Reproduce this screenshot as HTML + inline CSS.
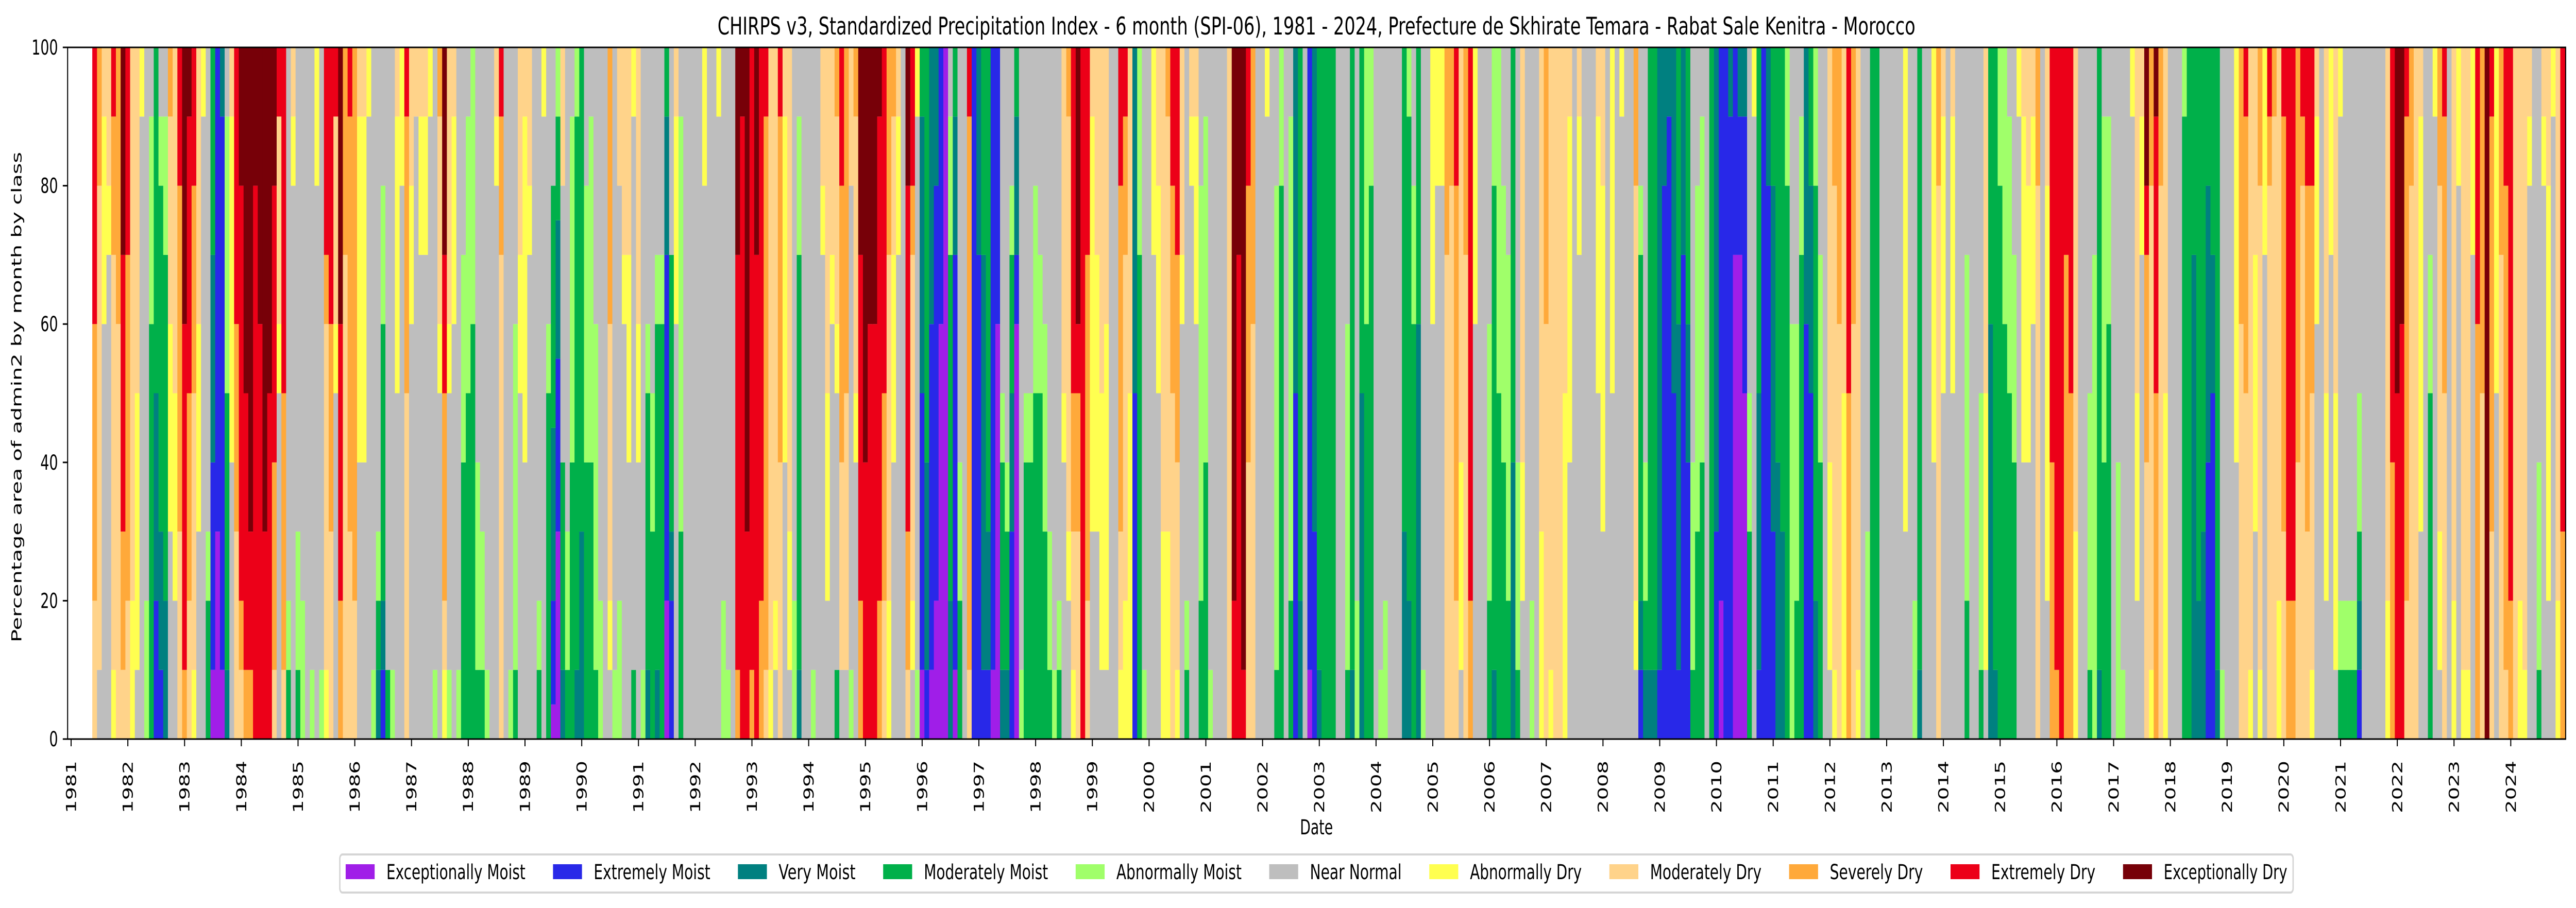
<!DOCTYPE html>
<html>
<head>
<meta charset="utf-8">
<style>
  html,body{margin:0;padding:0;background:#fff;width:100vw;height:100vh;overflow:hidden;}
  svg{display:block;width:100vw;height:100vh;}
  text{font-family:"DejaVu Sans","Liberation Sans",sans-serif;fill:#000;}
</style>
</head>
<body>
<svg id="chart" viewBox="0 0 7467 1763" preserveAspectRatio="none" xmlns="http://www.w3.org/2000/svg">
  <rect x="0" y="0" width="7467" height="1763" fill="#fff"/>
  <text x="3816" y="67" font-size="47" text-anchor="middle" textLength="3472" lengthAdjust="spacingAndGlyphs">CHIRPS v3, Standardized Precipitation Index - 6 month (SPI-06), 1981 - 2024, Prefecture de Skhirate Temara - Rabat Sale Kenitra - Morocco</text>
  <g id="bars"></g>
  <g id="yaxis"></g>
  <g id="xaxis"></g>
  <rect x="196" y="92" width="7241" height="1343" fill="none" stroke="#000" stroke-width="3"/>
  <text transform="translate(62,771) rotate(-90)" font-size="40" text-anchor="middle" textLength="952" lengthAdjust="spacingAndGlyphs">Percentage area of admin2 by month by class</text>
  <text x="3816" y="1620" font-size="40" text-anchor="middle">Date</text>
  <g id="legend">
    <rect x="985" y="1659" width="5662" height="74" rx="8" fill="#fff" stroke="#d5d5d5" stroke-width="4"/>
  </g>
</svg>
<script>
// ---- chart data ----
const classNames = ["Exceptionally Moist","Extremely Moist","Very Moist","Moderately Moist","Abnormally Moist","Near Normal","Abnormally Dry","Moderately Dry","Severely Dry","Extremely Dry","Exceptionally Dry"];
const classColors = ["#a01ee8","#2828e8","#008080","#00b04a","#a0ff6a","#bebebe","#ffff50","#ffd38a","#ffa93a","#ec0018","#770008"];
const classCodes = "0123456789X";
const firstMonthIndex = 5; // June 1981 (months since Jan 1981)
const yearTicks = [1981,1982,1983,1984,1985,1986,1987,1988,1989,1990,1991,1992,1993,1994,1995,1996,1997,1998,1999,2000,2001,2002,2003,2004,2005,2006,2007,2008,2009,2010,2011,2012,2013,2014,2015,2016,2017,2018,2019,2020,2021,2022,2023,2024];
const yTicks = [0,20,40,60,80,100];
const legendPatchX = [1002,1603,2139,2560,3118,3679,4143,4665,5186,5654,6154];
const legendTextLen = [403,338,223,360,363,266,324,323,270,302,358];
// monthly class composition: each char = one share of the area, class code 0..9,X
const spiA = ["7788889999","5777777788","5555556667","5555555677","6777777889","7777778888","7889999XXX","7788888999","6677777777","5666677777","5555555556","4455555555","3333334445","1122233333","1223333345","2233333445","5556667778","5566677777","7778888899","899999XXXX","778889999X","6777788899","5556667777","5555555556","3345555555","0111222333","0001111111","0111111112","2333344445","5555666667","7778889999","78999999XX","89999XXXXX","899XXXXXXX","99999999XX","999999XXXX","999XXXXXXX","99999XXXXX","78889999XX","5555567779","7888899999","3455555555","5555555567","3445555555","4455555555","5555555555","4555555555","5555555566","4555555555","6777778999","7778889999","5555567779","889999XXXX","7777777888","7778888889","7788888888","5555666667","5555666667","5555555556","4555555555","2345555555","1233334455","3555555555","4555555555","5555566667","5555555566","7777788889","5555556677","5555555557","5555555667","5555555667","5555555556","4555555555","5555567778","6788899XXX"];
const spiB = ["4555567777","5555556667","4555555555","3333444555","3333344445","3333334444","3444555555","3445555555","4555555555","5555555555","5555555567","7777777889","5555555555","4555555555","3444445555","5555566777","5555666667","5555555677","5555555555","3455555555","5555555556","3333345555","01112222233333335555","00000011111222233344","2333555577","3445555555","3333444445","2333333334","2223333333","3333444455","3333444445","3444445555","4455555555","5555555555","5677778888","4555555555","4455555577","5555556777","5555666777","3555555556","5555667777","4555555555","2333345555","3334455555","2333334555","3333334555","0011111223","1123333555","5555556667","3334444445","5555555555","5555555555","5555555555","5555555555","5555555566","5555555555","5555555555","5555555556","4455555555","4555555555","5555555555","8999999XXX","999999999X","999XXXXXXX","8999999999","9999999XXX","8899999999","7888888889","6777777777","5677777777","7777888889","5555666667","5667777777","4455555555"];
const spiC = ["2333333445","5555555555","5555555555","4555555555","5555555555","5555555677","5566677777","5555556777","3555567778","5777888899","5777788888","4555555577","5555677778","8899999XXX","9999XXXXXX","999999XXXX","999999XXXX","889999999X","7788899999","6677777888","5555666778","5555555667","5555555555","78899999XX","5677777899","4555555556","0111122223","1222333333","0111112222","0011111122","0000001111","0000000000","2233333445","0111111223","3344555555","5555555555","7888888889","1111111111","1111111222","1222222333","1223333333","0111111111","0000001111","2333455555","2334555555","1112233455","0000001223","4555555555","3333455555","3333455555","3333344455","3333344555","3334445555","3445555555","4555555555","3455555555","5555677777","5567777778","6778899999","777889XXXX","9999999999","7788888999","5556666667","5556666777","5666677777","5666667777","5555555555","5555555555","6778888899","6677777889","6666677777","1111122222","3333333444","4555555555","5555555555"];
const spiD = ["5555555666","5555566677","6667777777","6667777778","7777788899","6777888999","5555556777","3455555555","5555555567","5555556667","3344444455","3333444445","4555555555","5555555555","5555555555","5555555555","7777777777","99XXXXXXXX","9999999XXX","9XXXXXXXXX","7777888899","7777778888","5555555555","5555555555","5555555556","5555555555","3444444455","3333333344","5555555555","3344444445","1111122222","2233333333","5555555555","0111111111","1112222222","2333333333","3333333333","3333333333","3333333333","5555555555","5555555555","3444445555","2333333333","4455555555","2222233333","3333334444","3333333344","5555555555","4555555555","4455555555","5555555555","5555555555","5555555555","2223333333","2233333334","3333334455","2222223333","4555555555","5555555555","5555556666","5555555566","5555555566","7777777888","7777777788","7788888899","5666777777","7777777888","8899999999","5555556666","5555555555","5555555555","3344445555","2333333344","3333344444","3333444455"];
const spiE = ["3344444555","2222333333","3444555555","5566777777","5555555555","4455555555","5555555555","6667777777","7777778888","6777777777","7777777777","7777777777","6666677777","5555666667","5555555555","5555555667","5555555555","5555555555","5555555555","5555566667","5556666677","5555555555","5555566666","5555555555","5555555556","5555555555","5555555555","5677777788","1233333455","2344555555","2333333333","2333333333","1222222222","1111111122","1111111112","1111122222","1222223333","1111111222","1111223333","3444555555","3334444455","3333444445","5555555555","3333333333","1112222222","0011111111","1111111111","1111111112","0000000111","0000000112","0000011112","3334455555","5555555556","1222233333","1111111111","1111111122","1112222233","2222333333","2223333333","3333333344","4444445555","3344445555","3333333445","1111112222","1111122233","2233333344","3333444555","5555555555","5666777777","6777777788","7777778888","6666677777","8888899999","7777778888","6777777777"];
const spiF = ["5555555555","4445555555","3333333333","3333333333","5555555555","5555555555","5555555555","5555555555","5555555555","5556666666","5555555555","4455555555","2333333333","5555555555","5555555555","5555666666","7777777788","5555566667","5555555555","5555566667","5555555555","5555555555","3344444555","5555555555","5555555555","3444455555","5666677777","2222223333","2333333333","3333333344","3333334444","3333344445","3333444555","5555555556","5555666667","5555666677","5555556667","7777777788","5555555555","5566666677","8888999999","8999999999","9999999999","8888888999","8888899999","6667777777","5555555555","5555555555","3444455555","4444444555","2333333333","3333444445","3333334445","5555555555","4444555555","4555555555","5555555555","5555555556","5566677777","5555555667","77778889XX","6777777788","888889999X","7777777788","6666677777","5555555555","5555555555","5555555555","3333333334","3333333333","2222222333","2233333333","2223333333","1111222233","1111122333"];
const spiG = ["2333333333","4555555555","5555555555","5555555555","5555666666","7777778888","7777788889","6777777777","5556666777","6777777788","5555555666","7777777789","7777777778","6677777777","7778888889","8899999999","8899999999","7777888888","7777777789","7778888899","6777788899","5555556667","5555555555","5566677777","5555555666","5666677777","3455555556","3455555555","3455555555","3455555555","1234455555","5555555555","5555555555","5555555555","5555555555","5555555555","6677777777","8888999999","99999XXXXX","999999XXXX","7788888889","7777777788","7777777777","5556666667","5555555555","3333344555","5555555556","5667777788","7777788889","5555555555","6677777777","5555555566","6777777777","6777777777","5555555666","8888889999","7777788888","XXXXXXXXXX","7778888889","5555566666","7777777888","7888888899","8899999999","7777777777","6677777777","6777777777","5555555567","5555555555","3444555555","5555555567","5566666677","5555555556","6677777777","8889999999"];

// ---- scales ----
const monthStep = 13.705, x0 = 206.1;
const yBottom = 1435, yTop = 92;
function xScale(monthIdx){ return x0 + monthIdx*monthStep; }
function yScale(p){ return yBottom - p*(yBottom-yTop)/100; }

const NS = "http://www.w3.org/2000/svg";
const months = spiA.concat(spiB, spiC, spiD, spiE, spiF, spiG);

const barsG = document.getElementById("bars");
months.forEach(function(code, k){
  const mi = firstMonthIndex + k;
  const counts = new Array(11).fill(0);
  for (const ch of code) counts[classCodes.indexOf(ch)]++;
  const total = code.length;
  let cum = 0;
  const xc = xScale(mi);
  for (let c = 0; c < 11; c++) {
    if (!counts[c]) continue;
    const p = counts[c]/total*100;
    const r = document.createElementNS(NS, "rect");
    r.setAttribute("x", (xc - monthStep/2 - 0.3).toFixed(2));
    r.setAttribute("width", (monthStep + 0.6).toFixed(2));
    r.setAttribute("y", yScale(cum + p).toFixed(2));
    r.setAttribute("height", (yScale(cum) - yScale(cum + p)).toFixed(2));
    r.setAttribute("fill", classColors[c]);
    
    
    barsG.appendChild(r);
    cum += p;
  }
});

// ---- y axis ----
const yG = document.getElementById("yaxis");
yTicks.forEach(function(v){
  const y = yScale(v);
  const l = document.createElementNS(NS, "line");
  l.setAttribute("x1", 182); l.setAttribute("x2", 196);
  l.setAttribute("y1", y); l.setAttribute("y2", y);
  l.setAttribute("stroke", "#000"); l.setAttribute("stroke-width", 3);
  
  
  yG.appendChild(l);
  const t = document.createElementNS(NS, "text");
  t.setAttribute("x", 168); t.setAttribute("y", y + 14);
  t.setAttribute("font-size", 40); t.setAttribute("text-anchor", "end");
  t.textContent = String(v);
  
  
  yG.appendChild(t);
});

// ---- x axis ----
const xG = document.getElementById("xaxis");
yearTicks.forEach(function(yr){
  const x = xScale((yr - 1981)*12);
  const l = document.createElementNS(NS, "line");
  l.setAttribute("x1", x); l.setAttribute("x2", x);
  l.setAttribute("y1", 1435); l.setAttribute("y2", 1449);
  l.setAttribute("stroke", "#000"); l.setAttribute("stroke-width", 3);
  
  
  xG.appendChild(l);
  const t = document.createElementNS(NS, "text");
  t.setAttribute("transform", "translate(" + (x + 14).toFixed(1) + ",1477) rotate(-90)");
  t.setAttribute("font-size", 40); t.setAttribute("text-anchor", "end");
  t.textContent = String(yr);
  
  
  xG.appendChild(t);
});

// ---- legend ----
const lg = document.getElementById("legend");
classNames.forEach(function(name, i){
  const r = document.createElementNS(NS, "rect");
  r.setAttribute("x", legendPatchX[i]); r.setAttribute("y", 1678);
  r.setAttribute("width", 84); r.setAttribute("height", 29);
  r.setAttribute("fill", classColors[i]);
  
  
  lg.appendChild(r);
  const t = document.createElementNS(NS, "text");
  t.setAttribute("x", legendPatchX[i] + 118); t.setAttribute("y", 1707);
  t.setAttribute("font-size", 40);
  t.setAttribute("textLength", legendTextLen[i]);
  t.setAttribute("lengthAdjust", "spacingAndGlyphs");
  t.textContent = name;
  
  
  lg.appendChild(t);
});
</script>
</body>
</html>
